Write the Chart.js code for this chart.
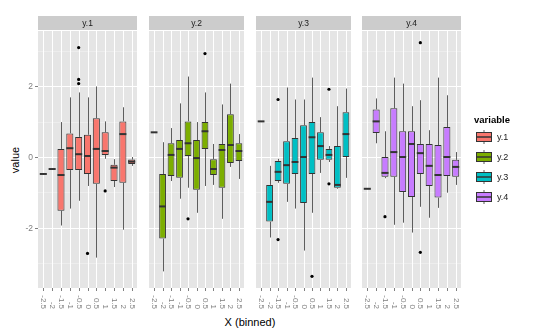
<!DOCTYPE html>
<html>
<head>
<meta charset="utf-8">
<script src="https://cdn.jsdelivr.net/npm/chart.js@4"></script>
<style>
  html, body { margin: 0; padding: 0; background: #fff; }
  #wrap { position: relative; width: 540px; height: 336px; overflow: hidden; font-family: "Liberation Sans", Arial, sans-serif; }
  #wrap canvas { position: absolute; top: 0; }
  .ytitle { position: absolute; left: 15px; top: 160px; transform: translate(-50%, -50%) rotate(-90deg); font-size: 11px; color: #000; }
  .xtitle { position: absolute; left: 250px; top: 322px; transform: translate(-50%, -50%); font-size: 11px; color: #000; white-space: nowrap; }
</style>
</head>
<body>
<div id="wrap">
  <div class="ytitle">value</div>
  <div class="xtitle">X (binned)</div>
</div>
<script>
'use strict';

const bins = ['-2.5', '-2', '-1.5', '-1', '-0.5', '0', '0.5', '1', '1.5', '2', '2.5'];
const variables = ['y.1', 'y.2', 'y.3', 'y.4'];
const fills = ['#F8766D', '#7CAE00', '#00BFC4', '#C77CFF'];
const yTicks = [-2, 0, 2];
const yMinorTicks = [-3, -1, 1, 3];

// one row per variable, one value per bin
const whiskerLow = [
  [-0.48, -0.34, -1.94, -1.46, -1.24, -0.82, -2.85, -0.05, -0.85, -2.06, -0.25],
  [0.70, -3.24, -0.68, -1.18, -0.87, -1.58, -0.82, -0.79, -1.75, -0.28, -0.62],
  [1.01, -2.28, -0.73, -1.27, -1.46, -2.65, -1.58, -0.45, -0.14, -0.90, -0.59],
  [-0.90, 0.39, -0.60, -1.92, -1.86, -2.14, -1.41, -1.72, -1.44, -1.01, -0.79]
];
const hingeLow = [
  [-0.48, -0.34, -1.52, -0.37, -0.37, -0.48, -0.76, 0.06, -0.68, -0.73, -0.20],
  [0.70, -2.31, -0.54, -0.59, 0.03, -0.93, 0.23, -0.51, -0.87, -0.17, -0.11],
  [1.01, -1.83, -0.68, -0.76, -0.48, -1.30, -0.48, -0.08, -0.08, -0.87, 0.00],
  [-0.90, 0.68, -0.56, -0.56, -0.99, -1.13, -0.48, -0.82, -1.15, -0.54, -0.56]
];
const medians = [
  [-0.48, -0.34, -0.51, 0.25, 0.08, 0.03, 0.23, 0.17, -0.30, 0.65, -0.13],
  [0.70, -1.40, 0.06, 0.23, 0.39, -0.03, 0.73, -0.34, 0.20, 0.34, 0.17],
  [1.01, -1.27, -0.42, -0.23, -0.14, 0.00, 0.56, 0.31, 0.06, -0.79, 0.65],
  [-0.90, 1.01, -0.45, 0.14, 0.00, 0.37, 0.11, -0.25, -0.51, 0.00, -0.28]
];
const hingeHigh = [
  [-0.48, -0.34, 0.23, 0.67, 0.57, 0.63, 1.10, 0.70, -0.22, 1.01, -0.07],
  [0.70, -0.48, 0.39, 0.48, 1.01, 0.48, 0.99, -0.06, 0.37, 1.21, 0.39],
  [1.01, -0.79, -0.11, 0.45, 0.54, 0.90, 0.99, 0.70, 0.23, 0.31, 1.27],
  [-0.90, 1.35, 0.00, 1.38, 0.73, 0.73, 0.37, 0.37, 0.34, 0.85, -0.08]
];
const whiskerHigh = [
  [-0.48, -0.34, 0.99, 1.69, 1.83, 1.69, 2.00, 1.01, -0.06, 1.41, 0.00],
  [0.70, 0.42, 0.82, 1.52, 2.28, 0.99, 1.83, 0.37, 1.49, 2.08, 0.65],
  [1.01, -0.25, -0.05, 1.97, 1.63, 1.63, 2.25, 1.13, 0.31, 1.44, 1.94],
  [-0.90, 1.66, 0.73, 2.25, 2.08, 1.44, 1.61, 0.76, 2.25, 1.75, 0.14]
];
const outliers = [
  [[], [], [], [], [3.10, 2.20, 2.08], [-2.73], [], [-0.96], [], [], []],
  [[], [], [], [], [-1.75], [], [2.93], [], [], [], []],
  [[], [], [1.63, -2.34], [], [], [], [-3.38], [], [1.92, -0.76], [], []],
  [[], [], [-1.69], [], [], [], [3.24, -2.70], [], [], [], []]
];

// ggplot-like 5% expansion of the value range
const allValues = whiskerLow.flat().concat(whiskerHigh.flat(), outliers.flat(2));
const lo = Math.min(...allValues), hi = Math.max(...allValues);
const yMin = lo - (hi - lo) * 0.05;
const yMax = hi + (hi - lo) * 0.05;

const panelLeft = [38, 145, 252, 358];
const panelWidth = 103;
const stripTop = 16, panelTop = 31, panelBottom = 288;
const H = 336;

const font = '"Liberation Sans", Arial, sans-serif';

function hline(ctx, a, py) {
  py = Math.round(py) + 0.5;
  ctx.beginPath(); ctx.moveTo(a.left, py); ctx.lineTo(a.right, py); ctx.stroke();
}
function vline(ctx, a, px) {
  px = Math.round(px) + 0.5;
  ctx.beginPath(); ctx.moveTo(px, a.top); ctx.lineTo(px, a.bottom); ctx.stroke();
}

const facet = {
  id: 'facet',
  beforeDatasetsDraw(chart, args, opts) {
    const { ctx, chartArea: a } = chart;
    const x = chart.scales.x, y = chart.scales.y;
    const i = opts.index;
    ctx.save();
    ctx.fillStyle = '#E5E5E5';
    ctx.fillRect(a.left, a.top, a.right - a.left, a.bottom - a.top);

    ctx.strokeStyle = '#F2F2F2';
    ctx.lineWidth = 0.6;
    yMinorTicks.forEach(v => hline(ctx, a, y.getPixelForValue(v)));
    ctx.strokeStyle = '#FFFFFF';
    ctx.lineWidth = 1;
    yTicks.forEach(v => hline(ctx, a, y.getPixelForValue(v)));
    bins.forEach((b, j) => vline(ctx, a, x.getPixelForValue(j + 1)));

    // strip
    ctx.fillStyle = '#CCCCCC';
    ctx.fillRect(a.left, stripTop, a.right - a.left, a.top - stripTop - 1);
    ctx.fillStyle = '#1A1A1A';
    ctx.font = '8.5px ' + font;
    ctx.textAlign = 'center';
    ctx.textBaseline = 'middle';
    ctx.fillText(variables[i], (a.left + a.right) / 2, (stripTop + a.top - 1) / 2 + 0.5);

    // whiskers
    ctx.strokeStyle = '#333333';
    ctx.lineWidth = 0.8;
    bins.forEach((b, j) => {
      const px = Math.round(x.getPixelForValue(j + 1)) + 0.5;
      ctx.beginPath();
      ctx.moveTo(px, y.getPixelForValue(whiskerHigh[i][j]));
      ctx.lineTo(px, y.getPixelForValue(hingeHigh[i][j]));
      ctx.moveTo(px, y.getPixelForValue(hingeLow[i][j]));
      ctx.lineTo(px, y.getPixelForValue(whiskerLow[i][j]));
      ctx.stroke();
    });
    ctx.restore();
  },
  afterDatasetsDraw(chart, args, opts) {
    const { ctx } = chart;
    const x = chart.scales.x, y = chart.scales.y;
    const i = opts.index;
    const bars = chart.getDatasetMeta(0).data;
    ctx.save();
    ctx.strokeStyle = '#333333';
    ctx.lineWidth = 2;
    bins.forEach((b, j) => {
      const half = bars[j].width / 2;
      const px = x.getPixelForValue(j + 1);
      const py = y.getPixelForValue(medians[i][j]);
      ctx.beginPath(); ctx.moveTo(px - half, py); ctx.lineTo(px + half, py); ctx.stroke();
    });
    ctx.restore();
  },
  afterDraw(chart, args, opts) {
    const { ctx, chartArea: a } = chart;
    const x = chart.scales.x, y = chart.scales.y;
    const i = opts.index;
    ctx.save();
    ctx.strokeStyle = '#7F7F7F';
    ctx.fillStyle = '#7F7F7F';
    ctx.lineWidth = 1;
    ctx.font = '8px ' + font;
    // x ticks and labels, rotated clockwise
    bins.forEach((b, j) => {
      const px = Math.round(x.getPixelForValue(j + 1)) + 0.5;
      ctx.beginPath(); ctx.moveTo(px, a.bottom); ctx.lineTo(px, a.bottom + 3); ctx.stroke();
      ctx.save();
      ctx.translate(px, a.bottom + 21);
      ctx.rotate(Math.PI / 2);
      ctx.textAlign = 'right';
      ctx.textBaseline = 'middle';
      ctx.fillText(b, 0, 0);
      ctx.restore();
    });
    if (i === 0) {
      ctx.textAlign = 'right';
      ctx.textBaseline = 'middle';
      ctx.font = '8.5px ' + font;
      yTicks.forEach(v => {
        const py = Math.round(y.getPixelForValue(v)) + 0.5;
        ctx.beginPath(); ctx.moveTo(a.left - 3, py); ctx.lineTo(a.left, py); ctx.stroke();
        ctx.fillText(String(v), a.left - 5, py);
      });
    }
    if (i === variables.length - 1) {
      const lx = a.right + 13;
      ctx.fillStyle = '#000';
      ctx.textAlign = 'left';
      ctx.textBaseline = 'middle';
      ctx.font = 'bold 9.5px ' + font;
      ctx.fillText('variable', lx, 120);
      ctx.font = '9px ' + font;
      variables.forEach((v, k) => {
        const cy = 137 + k * 20;
        const kx = lx + 2, kw = 16;
        ctx.strokeStyle = '#333333';
        ctx.lineWidth = 0.8;
        ctx.beginPath();
        ctx.moveTo(kx + kw / 2, cy - 7); ctx.lineTo(kx + kw / 2, cy + 7);
        ctx.stroke();
        ctx.fillStyle = fills[k];
        ctx.fillRect(kx, cy - 4.5, kw, 9);
        ctx.lineWidth = 1;
        ctx.strokeRect(kx + 0.5, cy - 4.5, kw - 1, 9);
        ctx.lineWidth = 1.5;
        ctx.beginPath(); ctx.moveTo(kx, cy); ctx.lineTo(kx + kw, cy); ctx.stroke();
        ctx.fillStyle = '#1A1A1A';
        ctx.fillText(v, kx + kw + 5, cy + 0.5);
      });
    }
    ctx.restore();
  }
};

const wrap = document.getElementById('wrap');

variables.forEach((name, i) => {
  const canvasLeft = i === 0 ? 0 : panelLeft[i];
  const canvasRight = i === variables.length - 1 ? 540 : panelLeft[i] + panelWidth;
  const cv = document.createElement('canvas');
  cv.width = canvasRight - canvasLeft;
  cv.height = H;
  cv.style.left = canvasLeft + 'px';
  cv.style.width = cv.width + 'px';
  cv.style.height = H + 'px';
  wrap.appendChild(cv);

  const boxes = bins.map((b, j) => ({ x: j + 1, y: [hingeLow[i][j], hingeHigh[i][j]] }));
  const points = [];
  outliers[i].forEach((list, j) => list.forEach(v => points.push({ x: j + 1, y: v })));

  new Chart(cv, {
    data: {
      datasets: [{
        type: 'bar',
        label: name,
        data: boxes,
        backgroundColor: fills[i],
        borderColor: '#333333',
        borderWidth: 1,
        borderSkipped: false,
        barPercentage: 0.8,
        categoryPercentage: 1
      }, {
        type: 'scatter',
        data: points,
        pointRadius: 1.6,
        pointBackgroundColor: '#000',
        pointBorderWidth: 0
      }]
    },
    options: {
      responsive: false,
      animation: false,
      events: [],
      layout: {
        padding: {
          left: panelLeft[i] - canvasLeft,
          right: canvasRight - (panelLeft[i] + panelWidth),
          top: panelTop,
          bottom: H - panelBottom
        }
      },
      scales: {
        x: { type: 'linear', min: 0.4, max: 11.6, offset: false, display: false },
        y: { type: 'linear', min: yMin, max: yMax, display: false }
      },
      plugins: {
        legend: { display: false },
        tooltip: { enabled: false },
        facet: { index: i }
      }
    },
    plugins: [facet]
  });
});
</script>
</body>
</html>
